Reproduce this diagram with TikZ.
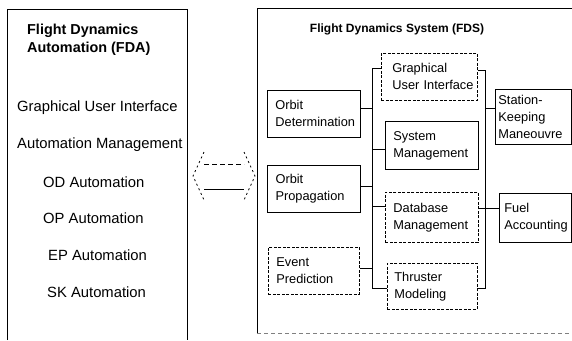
\documentclass[tikz,border=0pt]{standalone}
\usepackage{fontspec}
\setmainfont{Liberation Sans}
\hfuzz=40pt
\begin{document}
\begin{tikzpicture}[x=1pt,y=-1pt,
  panel/.style={line width=0.9pt},
  box/.style={draw, line width=0.8pt, anchor=north west, align=left,
    inner ysep=0pt, inner xsep=9pt, text width=76pt,
    font=\fontsize{12.8}{17}\selectfont},
  dbox/.style={box, dash pattern=on 3pt off 1.5pt},
  conn/.style={line width=0.8pt},
  listitem/.style={anchor=west, inner sep=0pt, font=\fontsize{14.8}{17}\selectfont},
  ttl/.style={inner sep=0pt, font=\bfseries\fontsize{14.4}{18}\selectfont},
  arrowpart/.style={line width=0.8pt}
]
\useasboundingbox (0,0) rectangle (572,340);

% panels
\draw[panel] (7,340) -- (7,9) -- (187,9) -- (187,340);
\draw[panel] (572,8) -- (257,8) -- (257,333);
\draw[gray, dash pattern=on 4pt off 3pt, line width=0.6pt] (257,333) -- (572,333);

% FDA panel
\node[ttl, anchor=west, align=left] (fdatitle) at (27,40) {Flight Dynamics\\Automation (FDA)};
\node[listitem] (l1) at (17,108) {Graphical User Interface};
\node[listitem] (l2) at (17,145) {Automation Management};
\node[listitem] (l3) at (43,182) {OD Automation};
\node[listitem] (l4) at (43,218) {OP Automation};
\node[listitem] (l5) at (48,255) {EP Automation};
\node[listitem] (l6) at (47,292) {SK Automation};

% FDS panel
\node[inner sep=0pt, font=\bfseries\fontsize{12}{14}\selectfont] (fdstitle) at (397,29) {Flight Dynamics System (FDS)};

\node[box, minimum height=47pt, inner xsep=8pt, text width=77pt] (od) at (267,90) {Orbit\\Determination};
\node[box, minimum height=47pt, inner xsep=8pt, text width=77pt, line width=1.1pt] (op) at (267,165) {Orbit\\Propagation};
\node[dbox, minimum height=47pt, inner xsep=8pt, text width=75pt] (ep) at (268,247) {Event\\Prediction};

\node[dbox, minimum height=47pt, inner xsep=11pt, text width=74pt] (gui) at (381,53) {Graphical\\\mbox{User Interface}};
\node[box, minimum height=48pt, inner xsep=8pt, text width=77pt] (sm) at (385,121) {System\\Management};
\node[dbox, minimum height=50pt, inner xsep=8pt, text width=77pt] (db) at (385,192) {Database\\Management};
\node[dbox, minimum height=46pt, inner xsep=7pt, text width=76pt] (tm) at (387,263) {Thruster\\Modeling};

\node[box, minimum height=55pt, inner xsep=3pt, text width=70pt] (sk) at (495,89) {Station-\\Keeping\\Maneouvre};
\node[box, minimum height=49pt, inner xsep=5pt, text width=62pt] (fa) at (499,193) {Fuel\\\mbox{Accounting}};

% buses
\coordinate (bl1) at (372,68);
\coordinate (bl2) at (372,288);
\coordinate (br1) at (485,70);
\coordinate (br2) at (485,288);
\draw[conn] (gui.west |- bl1) -- (bl1) -- (bl2) -- (tm.west |- bl2);
\draw[conn] (gui.east |- br1) -- (br1) -- (br2) -- (tm.east |- br2);

\coordinate (y1) at (0,108);
\coordinate (y2) at (0,186);
\coordinate (y3) at (0,268);
\coordinate (y4) at (0,149);
\coordinate (y5) at (0,206);
\coordinate (y6) at (0,208);
\draw[conn] (od.east |- y1) -- (bl1 |- y1);
\draw[conn] (op.east |- y2) -- (bl1 |- y2);
\draw[conn] (ep.east |- y3) -- (bl1 |- y3);
\draw[conn] (bl1 |- y4) -- (sm.west |- y4);
\draw[conn] (bl1 |- y5) -- (db.west |- y5);
\draw[conn] (db.east |- y6) -- (br1 |- y6);
\draw[conn] (br1 |- y1) -- (sk.west |- y1);
\draw[conn] (br1 |- y6) -- (fa.west |- y6);

% double arrow between panels
\coordinate (aL) at (193,176);
\coordinate (aR) at (255,176);
\coordinate (aLt) at (204,152);
\coordinate (aLb) at (204,200);
\coordinate (aRt) at (244,152);
\coordinate (aRb) at (244,200);
\draw[arrowpart, dash pattern=on 2pt off 3pt] (aLt) -- (aL) -- (aLb);
\draw[arrowpart, dash pattern=on 2pt off 3pt] (aRt) -- (aR) -- (aRb);
\draw[arrowpart, dash pattern=on 5pt off 3pt] (aLt |- 0,164) -- (aRt |- 0,164);
\draw[arrowpart] (aLb |- 0,189) -- (aRb |- 0,189);
\end{tikzpicture}
\end{document}
